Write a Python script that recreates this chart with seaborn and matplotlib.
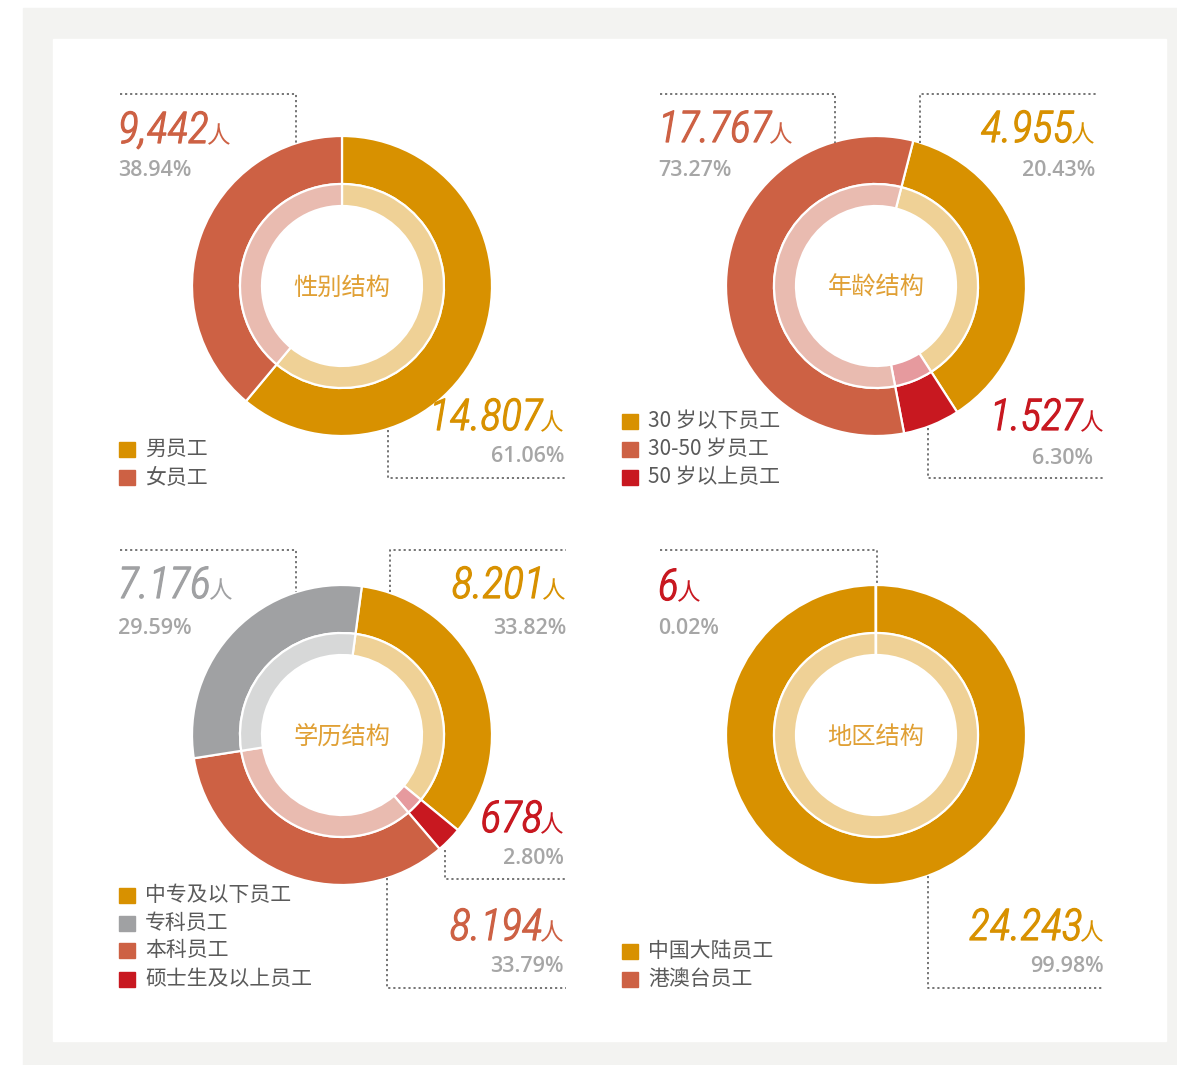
import os
import matplotlib
matplotlib.use("Agg")
import matplotlib.pyplot as plt
from matplotlib import font_manager as fm
from matplotlib import patheffects as pe
from matplotlib.patches import Rectangle
import seaborn as sns

W, H = 1177, 1065

# ---- data (legend order) ----
gender_legend = ["男员工", "女员工"]
gender_counts = ["14.807", "9,442"]
gender_pcts = ["61.06%", "38.94%"]
gender_shares = [61.06, 38.94]

age_legend = ["30 岁以下员工", "30-50 岁员工", "50 岁以上员工"]
age_counts = ["4.955", "17.767", "1.527"]
age_pcts = ["20.43%", "73.27%", "6.30%"]
# wedge sizes as they are drawn in the reference picture
age_shares = [36.9, 57.0, 6.1]

edu_legend = ["中专及以下员工", "专科员工", "本科员工", "硕士生及以上员工"]
edu_counts = ["8.201", "7.176", "8.194", "678"]
edu_pcts = ["33.82%", "29.59%", "33.79%", "2.80%"]
edu_shares = [33.82, 29.59, 33.79, 2.80]

region_legend = ["中国大陆员工", "港澳台员工"]
region_counts = ["24.243", "6"]
region_pcts = ["99.98%", "0.02%"]
region_shares = [99.98, 0.02]

# ---- style ----
sns.set_theme(style="white")
plt.rcParams["font.family"] = ["Noto Sans CJK SC", "DejaVu Sans"]

YELLOW, ORANGE, RED, GREY = sns.color_palette(["#d89100", "#cd6144", "#c81820", "#a0a1a3"])
LIGHT = {YELLOW: "#efd196", ORANGE: "#e9bbb0", RED: "#e69a9e", GREY: "#d7d8d8"}
TITLE_C = "#e0a035"
PCT_C = "#a6a6a6"
LINE_C = "#6a6a6a"


def pick_number_font():
    pref = ["roboto", "liberation", "dejavu", "noto", "open"]
    best = None
    for f in fm.fontManager.ttflist:
        if f.style not in ("italic", "oblique"):
            continue
        name = f.name.lower()
        base = os.path.basename(f.fname).lower()
        narrow = ("condensed" in base or "narrow" in base or "cond" in base
                  or "condensed" in name or "narrow" in name
                  or str(f.stretch) in ("condensed", "semi-condensed",
                                        "extra-condensed", "ultra-condensed"))
        if not narrow:
            continue
        rank = next((i for i, p in enumerate(pref) if p in name), 99)
        w = f.weight if isinstance(f.weight, int) else 400
        key = (rank, abs(w - 330))
        if best is None or key < best[0]:
            best = (key, f.fname)
    if best:
        return fm.FontProperties(fname=best[1], size=31.5)
    return fm.FontProperties(family="Roboto", style="italic", weight="light", size=29)


num_fp = pick_number_font()
ren_fp = fm.FontProperties(family="Noto Sans CJK SC", weight="light", size=17)
pct_fp = fm.FontProperties(family="Open Sans", weight="semibold", size=15.5)

fig = plt.figure(figsize=(W / 100, H / 100), dpi=100, facecolor="white")
ax = fig.add_axes([0, 0, 1, 1])
renderer = fig.canvas.get_renderer()

# background frame
ax.add_patch(Rectangle((23, 0), W - 23, H - 8, color="#f3f3f1", zorder=0))
ax.add_patch(Rectangle((53, H - 1041), 1113, 1002, color="white", zorder=0))


def Y(y):
    return H - y


def donut(cx, cy, shares, colors, order, start):
    s = [shares[i] for i in order]
    c = [colors[i] for i in order]
    kw = dict(center=(cx, Y(cy)), startangle=90 - start, counterclock=False)
    ax.pie(s, radius=150, colors=c,
           wedgeprops=dict(width=48, edgecolor="white", linewidth=1.6), **kw)
    ax.pie(s, radius=102, colors=[LIGHT[x] for x in c],
           wedgeprops=dict(width=22, edgecolor="white", linewidth=1.6), **kw)


def count_label(text, color, x, base, align):
    fx = [pe.withStroke(linewidth=0.9, foreground=color)]
    if align == "l":
        t = ax.text(x, Y(base), text, fontproperties=num_fp, color=color,
                    ha="left", va="baseline", zorder=5, path_effects=fx)
        w = t.get_window_extent(renderer).width
        ax.text(x + w - 2, Y(base), "人", fontproperties=ren_fp, color=color,
                ha="left", va="baseline", zorder=5)
    else:
        r = ax.text(x, Y(base), "人", fontproperties=ren_fp, color=color,
                    ha="right", va="baseline", zorder=5)
        w = r.get_window_extent(renderer).width
        ax.text(x - w + 2, Y(base), text, fontproperties=num_fp, color=color,
                ha="right", va="baseline", zorder=5, path_effects=fx)


def pct_label(text, x, y, align):
    ax.text(x, Y(y), text, fontproperties=pct_fp, color=PCT_C,
            ha="left" if align == "l" else "right", va="center", zorder=5)


def dotted(xs, ys):
    ax.plot(xs, [Y(v) for v in ys], color=LINE_C, lw=1.3,
            linestyle=(0, (1.2, 1.6)), zorder=4)


def legend(x, ys, names, colors):
    for yc, nm, c in zip(ys, names, colors):
        ax.add_patch(Rectangle((x, Y(yc) - 7.5), 15.5, 15, color=c, zorder=5))
        ax.text(x + 26, Y(yc), nm, fontsize=15, color="#5a5a5a",
                ha="left", va="center", zorder=5)


panels = [
    dict(center=(342, 286), start=0, title="性别结构", shares=gender_shares,
         colors=[YELLOW, ORANGE], order=[0, 1], legend=gender_legend,
         counts=gender_counts, pcts=gender_pcts,
         leg=(119, [449, 477]),
         labels=[(1, "l", 118, 143, 118, 170, None),
                 (0, "r", 564, 430, 564, 457, None)],
         lines=[([120, 296, 296], [94, 94, 143]),
                ([388, 388, 565], [430, 478, 478])]),
    dict(center=(876, 286), start=14.4, title="年龄结构", shares=age_shares,
         colors=[YELLOW, ORANGE, RED], order=[0, 2, 1], legend=age_legend,
         counts=age_counts, pcts=age_pcts,
         leg=(622, [421, 449, 477]),
         labels=[(1, "l", 658, 142, 658, 170, None),
                 (0, "r", 1095, 142, 1095, 170, None),
                 (2, "r", 1104, 430, 1093, 458, None)],
         lines=[([660, 835, 835], [94, 94, 143]),
                ([920, 920, 1096], [143, 94, 94]),
                ([928, 928, 1104], [428, 478, 478])]),
    dict(center=(342, 735), start=7.6, title="学历结构", shares=edu_shares,
         colors=[YELLOW, GREY, ORANGE, RED], order=[0, 3, 2, 1], legend=edu_legend,
         counts=edu_counts, pcts=edu_pcts,
         leg=(119, [895, 923, 950, 979]),
         labels=[(1, "l", 118, 598, 118, 628, None),
                 (0, "r", 566, 598, 566, 628, None),
                 (3, "r", 564, 832, 564, 858, None),
                 (2, "r", 564, 940, 564, 967, None)],
         lines=[([120, 296, 296], [550, 550, 592]),
                ([390, 390, 566], [592, 550, 550]),
                ([445, 445, 566], [850, 879, 879]),
                ([387, 387, 566], [878, 988, 988])]),
    dict(center=(876, 735), start=0, title="地区结构", shares=region_shares,
         colors=[YELLOW, ORANGE], order=[0, 1], legend=region_legend,
         counts=region_counts, pcts=region_pcts,
         leg=(622, [951, 979]),
         labels=[(1, "l", 658, 600, 658, 628, RED),
                 (0, "r", 1104, 940, 1104, 967, None)],
         lines=[([660, 877, 877], [550, 550, 584]),
                ([928, 928, 1104], [876, 988, 988])]),
]

for p in panels:
    cx, cy = p["center"]
    donut(cx, cy, p["shares"], p["colors"], p["order"], p["start"])
    ax.text(cx, Y(cy + 2), p["title"], fontsize=17.5, color=TITLE_C,
            ha="center", va="center", zorder=5)
    legend(p["leg"][0], p["leg"][1], p["legend"], p["colors"])
    for idx, align, x, base, px, py, col in p["labels"]:
        count_label(p["counts"][idx], col or p["colors"][idx], x, base, align)
        pct_label(p["pcts"][idx], px, py, align)
    for xs, ys in p["lines"]:
        dotted(xs, ys)

ax.set_xlim(0, W)
ax.set_ylim(0, H)
ax.set_aspect("equal")
ax.axis("off")

fig.savefig("out.png", dpi=100, facecolor="white")
